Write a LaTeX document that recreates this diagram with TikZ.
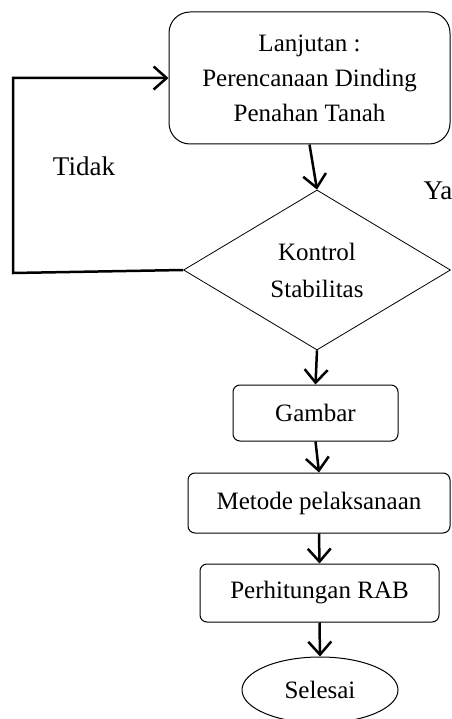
\documentclass[tikz,border=0pt]{standalone}
\usepackage{fontspec}
\setmainfont{Liberation Serif}
\usepackage{tikz}
\usetikzlibrary{shapes,arrows,arrows.meta,positioning,calc}

\begin{document}
\begin{tikzpicture}[x=1pt, y=1pt,
    process/.style={rectangle, rounded corners=7pt, draw=black, line width=1pt, text centered, inner sep=0pt, font=\fontsize{25}{35}\selectfont},
    plan/.style={rectangle, rounded corners=21pt, draw=black, line width=1pt, align=center, inner sep=0pt, font=\fontsize{25}{35}\selectfont},
    decision/.style={diamond, draw=black, line width=0.8pt, align=center, inner sep=0pt, font=\fontsize{25}{37}\selectfont},
    terminal/.style={ellipse, draw=black, line width=1pt, inner sep=0pt, font=\fontsize{25}{35}\selectfont},
    label/.style={font=\fontsize{27}{32}\selectfont},
    arrow/.style={line width=2.5pt, -{Straight Barb[length=13pt,width=23pt]}}
]
\useasboundingbox (0,0) rectangle (451,-719);

% Planning
\node[plan, minimum width=281, minimum height=132] (plan) at (309.5,-78) {Lanjutan :\\ Perencanaan Dinding\\ Penahan Tanah};

% Stability check
\node[decision, minimum width=267, minimum height=160] (ctrl) at (317,-270) {Kontrol\\ Stabilitas};

% Steps
\node[process, minimum width=165, minimum height=56] (gambar) at (315.5,-413) {Gambar};
\node[process, minimum width=262, minimum height=60] (metode) at (319,-503) {Metode pelaksanaan};
\node[process, minimum width=239, minimum height=58] (rab) at (319.5,-593) {Perhitungan RAB};

% End
\node[terminal, minimum width=156, minimum height=66] (end) at (320,-690) {Selesai};

% Labels
\node[label] (tidak) at (84,-166) {Tidak};
\node[label] (ya) at (438,-191) {Ya};

% Arrows
\coordinate (loop) at (13,-273);
\draw[arrow] (plan.south) -- (ctrl.north);
\draw[arrow] (ctrl.west) -- (loop) |- (plan.west);
\draw[arrow] (ctrl.south) -- (gambar.north);
\draw[arrow] (gambar.south) -- (metode.north);
\draw[arrow] (metode.south) -- (rab.north);
\draw[arrow] (rab.south) -- (end.north);

\end{tikzpicture}
\end{document}
